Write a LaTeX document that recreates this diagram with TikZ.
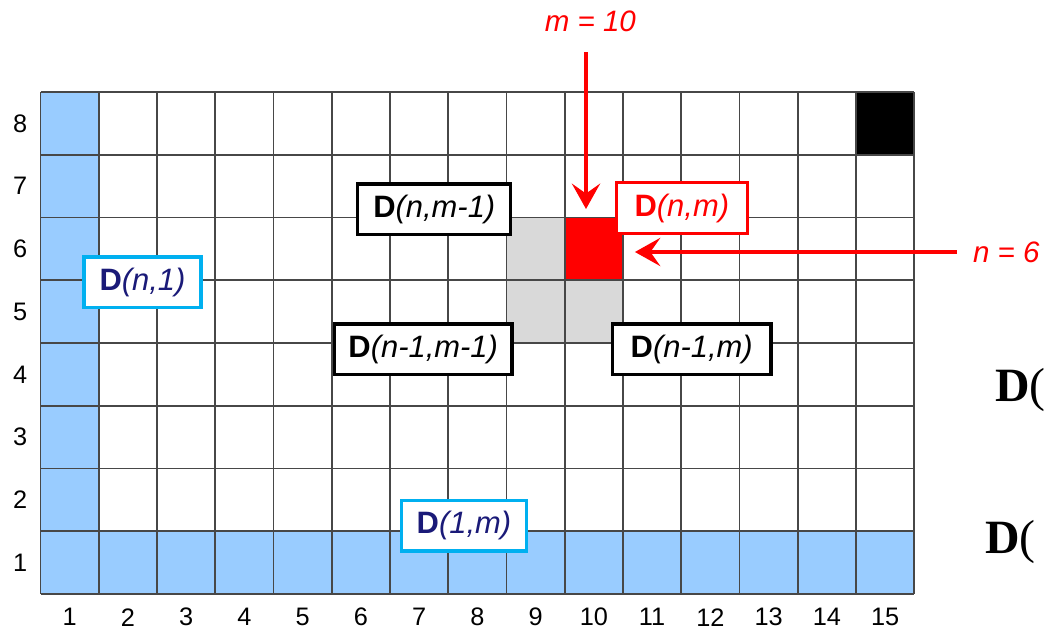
\documentclass[tikz,border=0pt]{standalone}
\usepackage{fontspec}
\setmainfont{Liberation Sans}
\newfontfamily\timesfont{Liberation Serif}
\usetikzlibrary{arrows.meta}
\definecolor{CellBlue}{HTML}{99CCFF}
\definecolor{CellGray}{HTML}{D9D9D9}
\definecolor{GridGray}{HTML}{474747}
\definecolor{BoxCyan}{HTML}{00B0F0}
\definecolor{LabelNavy}{HTML}{1A1A78}
\definecolor{MarkRed}{HTML}{FF0000}

\tikzset{
  dbox/.style={draw, line width=2.4pt, fill=white, inner xsep=11pt,
    minimum height=36pt, font=\fontsize{22}{26}\selectfont},
  bluebox/.style={dbox, draw=BoxCyan, text=LabelNavy},
  axisnum/.style={font=\fontsize{18}{22}\selectfont},
  gridline/.style={draw=GridGray, line width=1.2pt},
  redarrow/.style={draw=MarkRed, line width=3.5pt,
    -{Stealth[length=18pt,width=20pt,inset=7pt]}},
  redlabel/.style={text=MarkRed, font=\fontsize{21}{25}\selectfont\itshape}
}

\begin{document}
\begin{tikzpicture}[x=1.45625cm, y=1.56875cm]
    \clip (-0.6953,-0.5737) rectangle (17.245,9.466);
    % first row and first column
    \fill[CellBlue] (0,0) rectangle (15,1);
    \fill[CellBlue] (0,0) rectangle (1,8);
    \fill[CellGray] (8,4) rectangle (10,6);
    \fill[MarkRed] (9,5) rectangle (10,6);
    \fill[black] (14,7) rectangle (15,8);
    \foreach \c in {0,...,15}
      \draw[gridline] (\c,0) -- (\c,8);
    \foreach \r in {0,...,8}
      \draw[gridline] (0,\r) -- (15,\r);
    % axis numbers
    \foreach \c in {1,...,15}
      \node[axisnum] (col\c) at (\c-0.5,-0.37) {\c};
    \foreach \r in {1,...,8}
      \node[axisnum] (row\r) at (-0.35,\r-0.5) {\r};
    % cell labels
    \node[dbox] (dnm1) at (6.76,6.13) {\textbf{D}\textit{(n,m-1)}};
    \node[dbox, draw=MarkRed, text=MarkRed, inner xsep=13pt] (dnm) at (11.01,6.15)
      {\textbf{D}\textit{(n,m)}};
    \node[dbox, inner xsep=10pt] (dn1m1) at (6.57,3.90) {\textbf{D}\textit{(n-1,m-1)}};
    \node[dbox, inner xsep=13pt] (dn1m) at (11.18,3.90) {\textbf{D}\textit{(n-1,m)}};
    \node[bluebox] (dn1) at (1.751,4.964) {\textbf{D}\textit{(n,1)}};
    \node[bluebox] (d1m) at (7.27,1.09) {\textbf{D}\textit{(1,m)}};
    % m and n pointers
    \node[redlabel] (mlab) at (9.44,9.13) {m = 10};
    \coordinate (mtop) at (9.365,8.637);
    \coordinate (mtip) at (9.365,6.135);
    \draw[redarrow] (mtop) -- (mtip);
    \node[redlabel] (nlab) at (16.58,5.45) {n = 6};
    \coordinate (nstart) at (15.73,5.45);
    \coordinate (ntip) at (10.205,5.45);
    \draw[redarrow] (nstart) -- (ntip);
    % cut off text at the right edge
    \node[anchor=base west, inner sep=0pt, font=\timesfont\fontsize{34}{40}\selectfont]
      (cutA) at (16.386,3.06) {\textbf{D}(};
    \node[anchor=base west, inner sep=0pt, font=\timesfont\fontsize{34}{40}\selectfont]
      (cutB) at (16.215,0.653) {\textbf{D}(};
\end{tikzpicture}
\end{document}
